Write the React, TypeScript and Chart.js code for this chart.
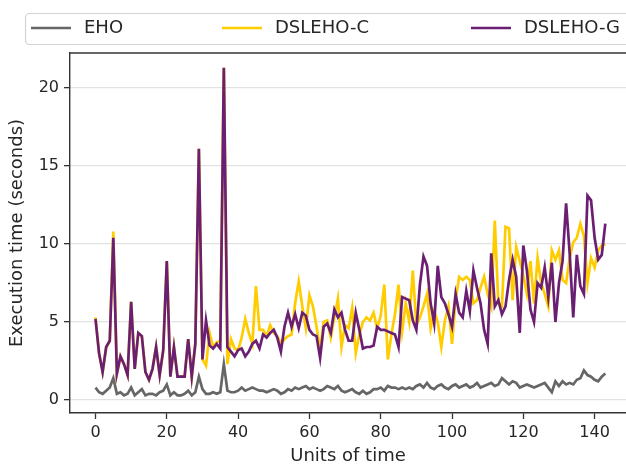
import React, { useEffect, useRef } from "react";
import { Chart, registerables } from "chart.js";

Chart.register(...registerables);

// Time steps 0..143
const TIME_UNITS: number[] = Array.from({ length: 144 }, (_, i) => i);

const EHO: number[] = [
  0.8, 0.5, 0.4, 0.6, 0.8, 1.4, 0.4, 0.5, 0.3, 0.4,
  0.8, 0.3, 0.5, 0.7, 0.3, 0.4, 0.4, 0.3, 0.5, 0.6,
  1.0, 0.3, 0.5, 0.3, 0.3, 0.4, 0.6, 0.3, 0.5, 1.5,
  0.7, 0.4, 0.4, 0.5, 0.4, 0.5, 2.3, 0.6, 0.5, 0.5,
  0.6, 0.8, 0.6, 0.7, 0.8, 0.7, 0.6, 0.6, 0.5, 0.6,
  0.7, 0.6, 0.4, 0.5, 0.7, 0.6, 0.8, 0.7, 0.8, 0.9,
  0.7, 0.8, 0.7, 0.6, 0.7, 0.9, 0.8, 0.7, 0.9, 0.6,
  0.5, 0.6, 0.7, 0.5, 0.4, 0.6, 0.4, 0.5, 0.7, 0.7,
  0.8, 0.6, 0.9, 0.8, 0.8, 0.7, 0.8, 0.7, 0.8, 0.7,
  0.9, 1.0, 0.8, 1.1, 0.8, 0.7, 0.9, 1.0, 0.8, 0.7,
  0.9, 1.0, 0.8, 0.9, 1.0, 0.8, 0.9, 1.1, 0.8, 0.9,
  1.0, 1.1, 0.9, 1.0, 1.4, 1.2, 1.0, 1.2, 1.1, 0.8,
  0.9, 1.0, 0.9, 0.8, 0.9, 1.0, 1.1, 0.8, 0.5, 1.2,
  0.9, 1.2, 1.0, 1.1, 1.0, 1.3, 1.4, 1.9, 1.6, 1.5,
  1.3, 1.2, 1.5, 1.7,
];

const DSLEHO_C: number[] = [
  5.3, 3.0, 1.8, 3.4, 3.8, 10.8, 1.7, 2.8, 2.3, 1.6,
  6.3, 2.0, 4.3, 4.1, 1.8, 1.3, 2.0, 3.4, 1.6, 3.2,
  8.9, 1.5, 3.4, 1.5, 1.5, 1.5, 3.9, 1.5, 3.6, 16.1,
  2.6, 2.2, 4.3, 3.4, 3.7, 3.8, 21.3, 2.3, 3.9, 3.3,
  3.2, 4.0, 5.2, 4.3, 3.6, 7.3, 4.5, 4.5, 4.1, 4.8,
  4.3, 4.1, 3.6, 3.9, 4.1, 4.2, 6.2, 7.6, 6.0, 4.6,
  6.7, 6.0, 4.7, 3.2, 5.0, 5.1, 4.0, 5.3, 6.5, 3.4,
  4.8, 4.6, 5.9, 3.0, 4.2, 5.0, 5.3, 5.1, 5.6, 4.6,
  5.4, 7.4, 2.6, 4.2, 5.5, 7.4, 4.4, 6.2, 5.0, 8.3,
  4.8, 5.3, 6.0, 6.8, 4.6, 5.7, 5.0, 3.4, 5.1, 6.0,
  3.6, 6.4, 7.9, 7.7, 7.9, 7.7, 6.2, 6.4, 7.2, 7.9,
  6.8, 6.0, 11.5, 6.2, 6.0, 11.1, 11.0, 6.4, 9.8, 8.9,
  8.0, 6.8, 8.9, 6.2, 9.1, 7.5, 6.8, 6.0, 9.6, 9.0,
  9.6, 7.7, 7.5, 9.1, 10.1, 10.4, 11.3, 10.5, 7.5, 9.1,
  8.5, 9.6, 9.9, 10.0,
];

const DSLEHO_G: number[] = [
  5.2, 3.0, 1.8, 3.4, 3.8, 10.4, 1.7, 2.8, 2.3, 1.6,
  6.3, 2.0, 4.3, 4.1, 1.8, 1.3, 2.0, 3.4, 1.6, 3.2,
  8.9, 1.5, 3.4, 1.5, 1.5, 1.5, 3.9, 1.5, 3.6, 16.1,
  2.6, 5.1, 3.5, 3.3, 3.6, 3.3, 21.3, 3.4, 3.1, 2.8,
  3.2, 3.3, 2.8, 3.1, 3.6, 3.8, 3.3, 4.2, 4.0, 4.3,
  4.5, 4.0, 3.1, 4.7, 5.6, 4.7, 5.5, 4.6, 5.6, 5.4,
  4.5, 4.2, 4.1, 2.7, 4.7, 4.9, 4.3, 5.8, 5.3, 5.6,
  4.5, 3.8, 3.8, 5.6, 4.5, 3.3, 3.4, 3.4, 3.5, 4.7,
  4.5, 4.5, 4.4, 4.3, 4.2, 3.4, 6.6, 6.5, 6.4, 5.1,
  4.5, 7.4, 9.2, 8.6, 6.2, 4.9, 8.6, 6.6, 6.2, 5.5,
  4.7, 6.8, 5.6, 5.3, 7.0, 5.7, 8.3, 7.2, 6.2, 4.5,
  3.6, 9.4, 6.0, 6.4, 5.5, 6.0, 7.7, 9.0, 7.9, 4.3,
  9.9, 8.3, 5.8, 5.0, 7.5, 7.2, 8.5, 6.6, 8.8, 5.0,
  7.5, 8.9, 12.6, 9.4, 5.3, 9.3, 7.3, 6.8, 13.1, 12.8,
  10.4, 9.0, 9.3, 11.3,
];

const SERIES_NAMES = ["EHO", "DSLEHO-C", "DSLEHO-G"];
const SERIES_COLORS = ["#666666", "#FFCC00", "#6B1F73"];
const X_TICKS = [0, 20, 40, 60, 80, 100, 120, 140];
const Y_TICKS = [0, 5, 10, 15, 20];

const FONT = "DejaVu Sans";
const INK = "#262626";
const SPINE = "#333333";

// Top spine and the expanded three-column legend above the axes
const framePlugin = {
  id: "frameAndLegend",
  afterDraw(chart: any) {
    const { ctx, chartArea } = chart;
    ctx.save();
    ctx.strokeStyle = SPINE;
    ctx.lineWidth = 1.4;
    ctx.beginPath();
    ctx.moveTo(chartArea.left, chartArea.top);
    ctx.lineTo(chartArea.right + 2, chartArea.top);
    ctx.stroke();

    // legend frame
    const bx = 25.5, by = 13.5, bw = 640, bh = 31, r = 4;
    ctx.beginPath();
    ctx.moveTo(bx + r, by);
    ctx.lineTo(bx + bw - r, by);
    ctx.arcTo(bx + bw, by, bx + bw, by + r, r);
    ctx.lineTo(bx + bw, by + bh - r);
    ctx.arcTo(bx + bw, by + bh, bx + bw - r, by + bh, r);
    ctx.lineTo(bx + r, by + bh);
    ctx.arcTo(bx, by + bh, bx, by + bh - r, r);
    ctx.lineTo(bx, by + r);
    ctx.arcTo(bx, by, bx + r, by, r);
    ctx.closePath();
    ctx.fillStyle = "rgba(255,255,255,0.8)";
    ctx.fill();
    ctx.strokeStyle = "#d4d4d4";
    ctx.lineWidth = 1.2;
    ctx.stroke();

    const lineStarts = [31, 222, 471];
    const cy = 28;
    ctx.font = `18px "${FONT}"`;
    ctx.textBaseline = "middle";
    ctx.textAlign = "left";
    chart.data.datasets.forEach((ds: any, i: number) => {
      const x0 = lineStarts[i];
      ctx.strokeStyle = ds.borderColor;
      ctx.lineWidth = 2.7;
      ctx.beginPath();
      ctx.moveTo(x0, cy);
      ctx.lineTo(x0 + 40, cy);
      ctx.stroke();
      ctx.fillStyle = INK;
      ctx.fillText(ds.label, x0 + 53, cy);
    });
    ctx.restore();
  },
};

export default function App() {
  const canvasRef = useRef<HTMLCanvasElement | null>(null);

  useEffect(() => {
    const canvas = canvasRef.current;
    if (!canvas) return;
    const seriesValues = [EHO, DSLEHO_C, DSLEHO_G];
    const chart = new Chart(canvas, {
      type: "line",
      data: {
        datasets: seriesValues.map((values, i) => ({
          label: SERIES_NAMES[i],
          data: values.map((v, k) => ({ x: TIME_UNITS[k], y: v })),
          borderColor: SERIES_COLORS[i],
          backgroundColor: SERIES_COLORS[i],
          borderWidth: 2.7,
          pointRadius: 0,
          tension: 0,
          fill: false,
          order: 2 - i,
        })),
      },
      options: {
        animation: false,
        responsive: false,
        maintainAspectRatio: false,
        layout: { padding: { top: 53, left: 0, right: 0, bottom: 0 } },
        plugins: { legend: { display: false }, tooltip: { enabled: false } },
        scales: {
          x: {
            type: "linear",
            min: -7.15,
            max: 148.8,
            afterBuildTicks: (s: any) => {
              s.ticks = X_TICKS.map((value) => ({ value }));
            },
            afterFit: (s: any) => {
              s.height = 52;
            },
            grid: {
              drawOnChartArea: false,
              drawTicks: true,
              tickLength: 6,
              tickColor: SPINE,
              tickWidth: 1.3,
            },
            border: { display: true, color: SPINE, width: 1.4 },
            ticks: {
              font: { family: FONT, size: 16 },
              color: INK,
              padding: 4,
              maxRotation: 0,
              autoSkip: false,
            },
            title: {
              display: true,
              text: "Units of time",
              font: { family: FONT, size: 18 },
              color: INK,
              padding: { top: 0, bottom: -2 },
            },
          },
          y: {
            type: "linear",
            min: -0.83,
            max: 22.24,
            afterBuildTicks: (s: any) => {
              s.ticks = Y_TICKS.map((value) => ({ value }));
            },
            afterFit: (s: any) => {
              s.width = 70;
            },
            grid: {
              color: "#e2e2e2",
              lineWidth: 1.3,
              drawTicks: true,
              tickLength: 6,
              tickColor: SPINE,
              tickWidth: 1.3,
            },
            border: { display: true, color: SPINE, width: 1.4 },
            ticks: {
              font: { family: FONT, size: 16 },
              color: INK,
              padding: 5,
              autoSkip: false,
            },
            title: {
              display: true,
              text: "Execution time (seconds)",
              font: { family: FONT, size: 18 },
              color: INK,
              padding: { top: 7, bottom: 0 },
            },
          },
        },
      },
      plugins: [framePlugin],
    });
    return () => chart.destroy();
  }, []);

  return (
    <div style={{ position: "fixed", left: 0, top: 0, width: 626, height: 465, background: "#fff" }}>
      <canvas ref={canvasRef} width={626} height={465} style={{ display: "block" }} />
    </div>
  );
}
